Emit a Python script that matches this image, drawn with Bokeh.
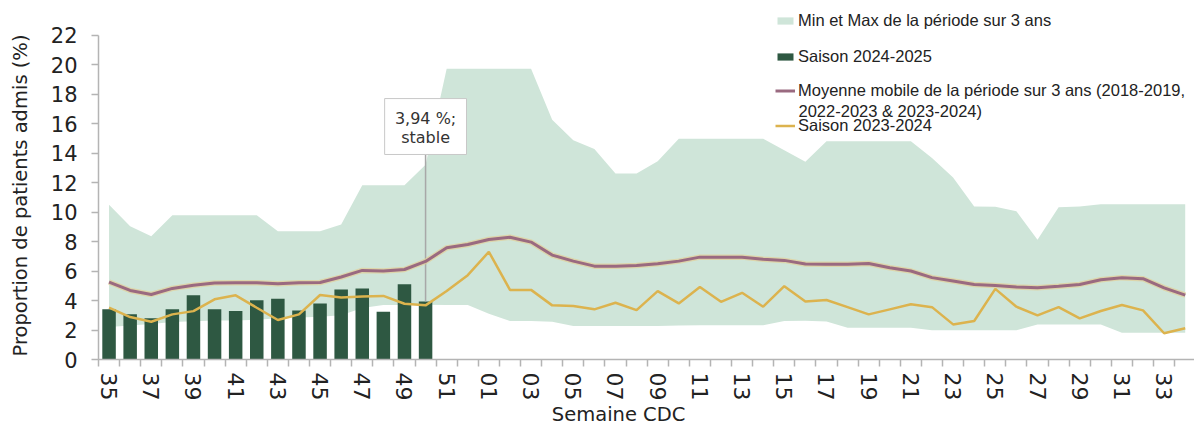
from bokeh.plotting import figure
from bokeh.models import Range1d, FixedTicker, Legend, LegendItem, Label
from bokeh.embed import file_html
from bokeh.resources import INLINE
from bokeh.core.properties import value

# ---------------- data ----------------
weeks = ["35", "36", "37", "38", "39", "40", "41", "42", "43", "44", "45", "46",
         "47", "48", "49", "50", "51", "52", "01", "02", "03", "04", "05", "06",
         "07", "08", "09", "10", "11", "12", "13", "14", "15", "16", "17", "18",
         "19", "20", "21", "22", "23", "24", "25", "26", "27", "28", "29", "30",
         "31", "32", "33", "34"]

saison_2024_2025 = [3.40, 3.06, 2.79, 3.40, 4.35, 3.40, 3.28, 4.01, 4.12, 3.33,
                    3.80, 4.75, 4.82, 3.24, 5.11, 3.94]

max_3ans = [10.50, 9.04, 8.36, 9.78, 9.78, 9.78, 9.78, 9.78, 8.70, 8.70, 8.70, 9.15,
            11.81, 11.81, 11.81, 13.20, 19.72, 19.72, 19.72, 19.72, 19.72, 16.25, 14.87, 14.27,
            12.61, 12.61, 13.44, 14.97, 14.97, 14.97, 14.97, 14.97, 14.19, 13.40, 14.79, 14.79,
            14.79, 14.79, 14.79, 13.66, 12.34, 10.37, 10.35, 10.05, 8.12, 10.33, 10.37, 10.53,
            10.53, 10.53, 10.53, 10.53]

min_3ans = [2.20, 2.30, 2.40, 2.55, 2.60, 2.65, 2.65, 2.70, 2.80, 2.85, 2.90, 3.00,
            3.50, 3.70, 3.70, 3.72, 3.69, 3.69, 3.10, 2.61, 2.61, 2.56, 2.27, 2.27,
            2.27, 2.27, 2.27, 2.30, 2.33, 2.33, 2.33, 2.33, 2.61, 2.63, 2.58, 2.15,
            2.15, 2.15, 2.15, 1.98, 1.98, 1.98, 1.98, 1.98, 2.38, 2.38, 2.38, 2.38,
            1.81, 1.81, 1.81, 1.81]

moyenne_mobile = [5.25, 4.68, 4.41, 4.82, 5.04, 5.18, 5.20, 5.20, 5.13, 5.20, 5.22, 5.59,
                  6.04, 6.00, 6.10, 6.65, 7.57, 7.80, 8.14, 8.29, 7.96, 7.08, 6.67, 6.33,
                  6.33, 6.38, 6.49, 6.67, 6.94, 6.94, 6.94, 6.80, 6.72, 6.48, 6.45, 6.45,
                  6.51, 6.22, 6.00, 5.55, 5.32, 5.09, 5.02, 4.91, 4.86, 4.97, 5.09, 5.41,
                  5.55, 5.48, 4.86, 4.36]

saison_2023_2024 = [3.51, 2.88, 2.56, 3.06, 3.28, 4.08, 4.35, 3.51, 2.68, 3.06, 4.37, 4.20,
                    4.27, 4.31, 3.78, 3.67, 4.64, 5.72, 7.30, 4.72, 4.72, 3.67, 3.63, 3.40,
                    3.85, 3.35, 4.64, 3.80, 4.91, 3.91, 4.52, 3.58, 4.97, 3.93, 4.03, 3.55,
                    3.06, 3.40, 3.74, 3.55, 2.38, 2.61, 4.79, 3.58, 2.99, 3.55, 2.79, 3.29,
                    3.69, 3.33, 1.78, 2.12]

y_ticks = [0, 2, 4, 6, 8, 10, 12, 14, 16, 18, 20, 22]

lbl_minmax = "Min et Max de la période sur 3 ans"
lbl_2425 = "Saison 2024-2025"
lbl_moy_1 = "Moyenne mobile de la période sur 3 ans (2018-2019,"
lbl_moy_2 = "2022-2023 & 2023-2024)"
lbl_2324 = "Saison 2023-2024"
x_title = "Semaine CDC"
y_title = "Proportion de patients admis (%)"
callout_status = "stable"

# ---------------- styles ----------------
FONT = "DejaVu Sans"
LEG_FONT = "Liberation Sans"
C_AREA = "#cfe5d9"
C_BAR = "#2e5842"
C_MOY = "#9a6a80"
C_GLOW = "#e3cf95"
C_JAUNE = "#dcb34e"
C_AXIS = "#b4b4b4"
C_TEXT = "#222222"
NBSP = "\u00a0"

n = len(weeks)
idx = list(range(n))
nb = len(saison_2024_2025)

W, H = 1194, 429
BORDER_L, BORDER_B = 98, 70
FRAME_H = H - BORDER_B
PX_PER_UNIT = 14.75

p = figure(width=W, height=H, output_backend="svg", toolbar_location=None,
           x_range=Range1d(-0.5, 51.44), y_range=Range1d(0, FRAME_H / PX_PER_UNIT),
           min_border_left=BORDER_L, min_border_right=0, min_border_top=0,
           min_border_bottom=BORDER_B)
p.outline_line_color = None
p.grid.visible = False
p.background_fill_color = "white"

r_area = p.varea(x=idx, y1=min_3ans, y2=max_3ans, fill_color=C_AREA, fill_alpha=1.0)
r_bar = p.vbar(x=idx[:nb], top=saison_2024_2025, width=0.64, fill_color=C_BAR, line_color=None)

# callout anchored on the last bar
i_last = nb - 1
v_last = saison_2024_2025[-1]
box_bottom, box_top = 13.90, 17.69
p.segment(x0=[i_last], y0=[v_last], x1=[i_last], y1=[box_bottom], line_color="#a8a8a8", line_width=1.5)

p.line(idx, moyenne_mobile, line_color=C_GLOW, line_width=5.5, line_alpha=0.7)
r_moy = p.line(idx, moyenne_mobile, line_color=C_MOY, line_width=3)
r_2324 = p.line(idx, saison_2023_2024, line_color=C_JAUNE, line_width=2.5)

p.quad(left=[i_last - 1.94], right=[i_last + 1.94], bottom=[box_bottom], top=[box_top],
       fill_color="white", line_color="#c8c8c8", line_width=1)
callout_val = ("%.2f" % v_last).replace(".", ",") + " %;"
p.text(x=[i_last, i_last], y=[16.34, 15.05], text=[callout_val, callout_status],
       text_align="center", text_baseline="middle", text_font=value(FONT),
       text_font_size="16px", text_color="#333333")

# ---------------- axes ----------------
p.yaxis.ticker = FixedTicker(ticks=y_ticks)
p.yaxis.bounds = (0, 22)
# trailing no-break spaces move the centred title down, as in the reference
p.yaxis.axis_label = y_title + NBSP * 5
p.yaxis.axis_label_text_font = FONT
p.yaxis.axis_label_text_font_size = "19.5px"
p.yaxis.axis_label_text_font_style = "normal"
p.yaxis.axis_label_text_color = C_TEXT
p.yaxis.axis_label_standoff = 16
p.yaxis.major_label_standoff = 14
p.yaxis.minor_tick_line_color = None
p.yaxis.major_tick_out = 7
p.yaxis.major_tick_in = 0
p.yaxis.major_label_text_font_size = "21px"

p.xaxis.ticker = FixedTicker(ticks=idx[::2], minor_ticks=[i - 0.5 for i in range(n + 1)])
p.xaxis.major_label_overrides = {i: weeks[i] for i in idx[::2]}
p.xaxis.major_label_orientation = "vertical"
p.xaxis.major_tick_line_color = None
p.xaxis.major_tick_out = 7
p.xaxis.major_tick_in = 0
p.xaxis.minor_tick_out = 7
p.xaxis.minor_tick_in = 0
p.xaxis.minor_tick_line_color = C_AXIS
p.xaxis.minor_tick_line_width = 1.5
p.xaxis.major_label_standoff = 6
p.xaxis.major_label_text_font_size = "22px"
# trailing no-break spaces shift the centred title left, as in the reference
p.xaxis.axis_label = x_title + NBSP * 9
p.xaxis.axis_label_text_font = FONT
p.xaxis.axis_label_text_font_size = "19.5px"
p.xaxis.axis_label_text_font_style = "normal"
p.xaxis.axis_label_text_color = C_TEXT
p.xaxis.axis_label_standoff = 0

for ax in (p.xaxis, p.yaxis):
    ax.axis_line_color = C_AXIS
    ax.axis_line_width = 1.5
    ax.major_tick_line_width = 1.5
    ax.major_label_text_font = FONT
    ax.major_label_text_color = C_TEXT
p.yaxis.major_tick_line_color = C_AXIS

# ---------------- legend (one block per item) ----------------
LEG_X = 775 - BORDER_L
LEG_FS = "16.5px"
def add_leg(renderer, label, center_from_top):
    y = FRAME_H - (center_from_top + 10)
    leg = Legend(items=[LegendItem(label=label, renderers=[renderer])], location=(LEG_X, y),
                 orientation="vertical", padding=0, margin=0, spacing=0,
                 label_standoff=3, glyph_width=20, glyph_height=9, label_height=20,
                 background_fill_alpha=0, border_line_color=None,
                 label_text_font=LEG_FONT, label_text_font_size=LEG_FS, label_text_color=C_TEXT)
    p.add_layout(leg)

add_leg(r_area, lbl_minmax, 20)
add_leg(r_bar, lbl_2425, 56)
add_leg(r_moy, lbl_moy_1, 90)
add_leg(r_2324, lbl_2324, 125)
p.add_layout(Label(x=LEG_X + 23, y=FRAME_H - 110, x_units="screen", y_units="screen",
                   text=lbl_moy_2, text_align="left", text_baseline="middle",
                   text_font=LEG_FONT, text_font_size=LEG_FS, text_color=C_TEXT))

open("out.html", "w").write(file_html(p, INLINE))
